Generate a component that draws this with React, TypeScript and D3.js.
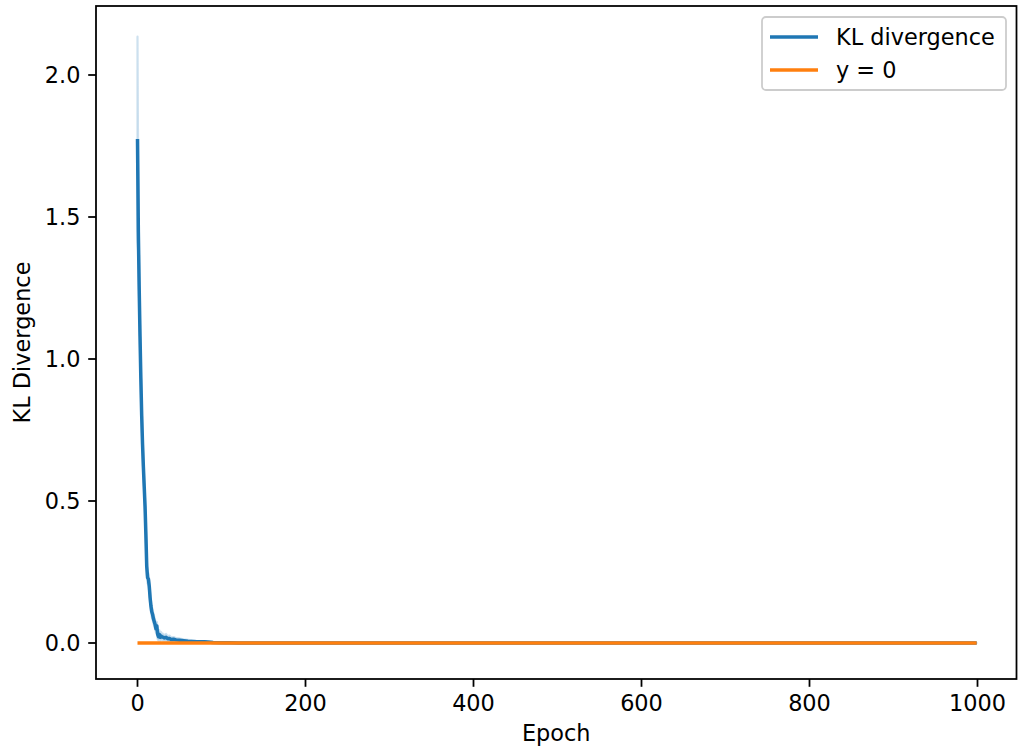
import React from "react";
import * as d3 from "d3";

// Epochs at which the KL divergence curve was read (later epochs sit at ~0)
const epochs = [0, 1, 2, 3, 4, 5, 6, 7, 8, 9, 10, 11, 12, 13, 14, 15, 16, 17, 18, 19, 20, 21, 22, 23, 24, 25, 26, 27, 28, 29, 30, 32, 34, 36, 38, 40, 43, 46, 50, 55, 60, 65, 70, 80, 90, 100, 110, 120, 999];
const klMean = [1.775, 1.45, 1.25, 1.08, 0.93, 0.8, 0.7, 0.62, 0.55, 0.48, 0.38, 0.27, 0.23, 0.225, 0.2, 0.16, 0.13, 0.11, 0.1, 0.085, 0.075, 0.065, 0.05, 0.06, 0.03, 0.022, 0.03, 0.02, 0.025, 0.022, 0.021, 0.018, 0.02, 0.015, 0.016, 0.012, 0.013, 0.011, 0.01, 0.008, 0.006, 0.005, 0.004, 0.004, 0.002, 0.001, 0.0005, 0.0, 0.0];
const klSpread = [0.36, 0.08, 0.05, 0.04, 0.03, 0.03, 0.025, 0.02, 0.02, 0.02, 0.02, 0.02, 0.02, 0.02, 0.02, 0.02, 0.02, 0.018, 0.018, 0.016, 0.016, 0.015, 0.014, 0.014, 0.016, 0.013, 0.015, 0.012, 0.014, 0.011, 0.012, 0.01, 0.012, 0.009, 0.01, 0.008, 0.008, 0.006, 0.006, 0.005, 0.005, 0.004, 0.004, 0.003, 0.002, 0.001, 0.001, 0.0, 0.0];
const zeroLineEpochs = [0, 999];
const xTicks = [0, 200, 400, 600, 800, 1000];
const yTicks = [0.0, 0.5, 1.0, 1.5, 2.0];
const legendLabels = ["KL divergence", "y = 0"];

const W = 1018;
const H = 752;
const frame = { left: 96, right: 1016.5, top: 6, bottom: 679 };
const FONT = "DejaVu Sans, sans-serif";
const FS = 22.4;
const BLUE = "#1f77b4";
const ORANGE = "#ff7f0e";

export default function App() {
  const x = d3.scaleLinear().domain([0, 1000]).range([137.5, 977.5]);
  const y = d3.scaleLinear().domain([0, 2]).range([643, 75]);

  const pts = epochs.map((e, i) => ({ e, m: klMean[i], s: klSpread[i] }));
  const area = d3
    .area<{ e: number; m: number; s: number }>()
    .x((d) => x(d.e))
    .y0((d) => y(d.m - d.s))
    .y1((d) => y(d.m + d.s));
  const line = d3
    .line<{ e: number; m: number }>()
    .x((d) => x(d.e))
    .y((d) => y(d.m));
  const zeroLine = d3
    .line<number>()
    .x((d) => x(d))
    .y(() => y(0));

  const tickLen = 7.8;
  const sw = 1.78;

  return (
    <svg
      width={W}
      height={H}
      style={{ position: "absolute", left: 0, top: 0, display: "block", background: "#fff" }}
      fontFamily={FONT}
    >
      <defs>
        <clipPath id="clip">
          <rect x={frame.left} y={frame.top} width={frame.right - frame.left} height={frame.bottom - frame.top} />
        </clipPath>
      </defs>
      <g clipPath="url(#clip)">
        <path
          d={area(pts) || ""}
          fill="#a5c8e1"
          fillOpacity={0.5}
          stroke="#a5c8e1"
          strokeOpacity={0.55}
          strokeWidth={2.2}
          strokeLinejoin="round"
        />
        <path d={line(pts) || ""} fill="none" stroke={BLUE} strokeWidth={3.5} strokeLinejoin="round" />
        <path d={zeroLine(zeroLineEpochs) || ""} fill="none" stroke={ORANGE} strokeWidth={3.33} />
      </g>

      {/* spines */}
      <rect
        x={frame.left}
        y={frame.top}
        width={frame.right - frame.left}
        height={frame.bottom - frame.top}
        fill="none"
        stroke="#000"
        strokeWidth={sw}
      />

      {/* x ticks */}
      {xTicks.map((t) => (
        <g key={"x" + t}>
          <line x1={x(t)} x2={x(t)} y1={frame.bottom} y2={frame.bottom + tickLen} stroke="#000" strokeWidth={sw} />
          <text x={x(t)} y={frame.bottom + tickLen + 7.8 + 16.5} textAnchor="middle" fontSize={FS} fill="#000">
            {t}
          </text>
        </g>
      ))}

      {/* y ticks */}
      {yTicks.map((t) => (
        <g key={"y" + t}>
          <line x1={frame.left - tickLen} x2={frame.left} y1={y(t)} y2={y(t)} stroke="#000" strokeWidth={sw} />
          <text x={frame.left - tickLen - 7.8} y={y(t)} dy="0.35em" textAnchor="end" fontSize={FS} fill="#000">
            {t.toFixed(1)}
          </text>
        </g>
      ))}

      {/* axis labels */}
      <text x={(frame.left + frame.right) / 2} y={741} textAnchor="middle" fontSize={FS} fill="#000">
        Epoch
      </text>
      <text
        transform={`translate(30, ${(frame.top + frame.bottom) / 2}) rotate(-90)`}
        textAnchor="middle"
        fontSize={FS}
        fill="#000"
      >
        KL Divergence
      </text>

      {/* legend */}
      <g>
        <rect x={762} y={17} width={244} height={73} rx={4} fill="#fff" fillOpacity={0.8} stroke="#cccccc" strokeWidth={1.78} />
        {legendLabels.map((lab, i) => (
          <g key={lab}>
            <line
              x1={770}
              x2={818}
              y1={37 + i * 33}
              y2={37 + i * 33}
              stroke={i === 0 ? BLUE : ORANGE}
              strokeWidth={3.33}
            />
            <text x={836} y={37 + i * 33} dy="0.35em" fontSize={FS} fill="#000">
              {lab}
            </text>
          </g>
        ))}
      </g>
    </svg>
  );
}
